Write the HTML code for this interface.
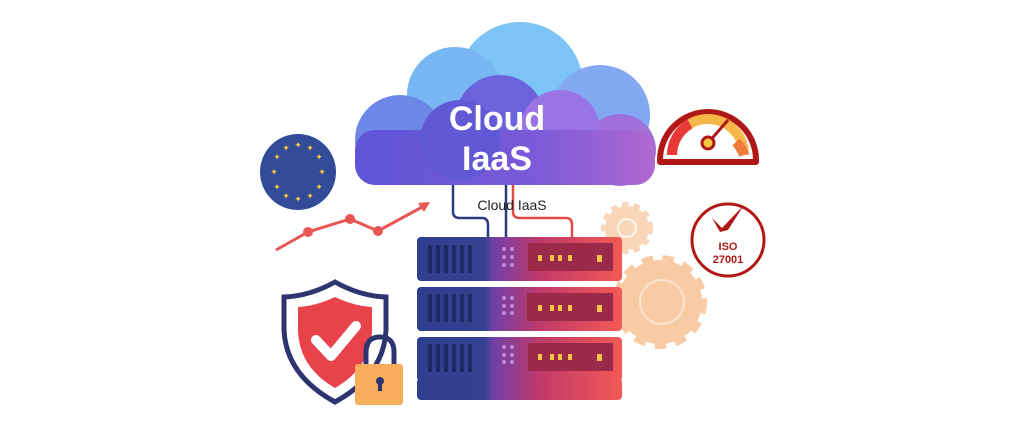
<!DOCTYPE html>
<html><head><style>html,body{margin:0;padding:0;background:#fff;width:1024px;height:429px;overflow:hidden}</style></head>
<body>
<svg width="1024" height="429" viewBox="0 0 1024 429" xmlns="http://www.w3.org/2000/svg">
<defs>
<linearGradient id="cl2" x1="0" y1="0" x2="1" y2="0"><stop offset="0" stop-color="#5d55d6"/><stop offset="0.6" stop-color="#7a5ad8"/><stop offset="1" stop-color="#b068d0"/></linearGradient>
<linearGradient id="sv" x1="0" y1="0" x2="1" y2="0"><stop offset="0" stop-color="#2f3f8f"/><stop offset="0.33" stop-color="#33428f"/><stop offset="0.37" stop-color="#7040a8"/><stop offset="0.6" stop-color="#c03a6a"/><stop offset="1" stop-color="#f25a55"/></linearGradient>
</defs>
<path d="M453 180 V212 Q453 218 460 218 H482 Q488 218 488 225 V240" fill="none" stroke="#2c3a80" stroke-width="2.5"/>
<path d="M506 180 V240" fill="none" stroke="#2c3a80" stroke-width="2.5"/>
<path d="M513 180 V212 Q513 218 520 218 H566 Q572 218 572 225 V240" fill="none" stroke="#e04a4a" stroke-width="2.5"/>
<g>
<circle cx="520" cy="85" r="63" fill="#7cc4f5"/>
<circle cx="455" cy="95" r="48" fill="#78b6f4"/>
<circle cx="600" cy="115" r="50" fill="#82a8f2"/>
<circle cx="400" cy="140" r="45" fill="#6e88e8"/>
<circle cx="620" cy="150" r="36" fill="#a070d8"/>
<circle cx="500" cy="120" r="45" fill="#6b63dc"/>
<circle cx="560" cy="130" r="40" fill="#9a74e4"/>
<rect x="355" y="130" width="300" height="55" rx="20" fill="url(#cl2)"/>
<circle cx="460" cy="140" r="40" fill="#6058d4"/>
</g>
<text x="497" y="130" text-anchor="middle" font-family="Liberation Sans, sans-serif" font-weight="bold" font-size="34" fill="#fff">Cloud</text>
<text x="497" y="170" text-anchor="middle" font-family="Liberation Sans, sans-serif" font-weight="bold" font-size="34" fill="#fff">IaaS</text>
<text x="512" y="210" text-anchor="middle" font-family="Liberation Sans, sans-serif" font-size="14" fill="#222">Cloud IaaS</text>
<circle cx="298" cy="172" r="38" fill="#334c9a"/>
<g fill="#f5c842" font-size="9" text-anchor="middle" font-family="DejaVu Sans">
<text x="298" y="148">✦</text><text x="310" y="151">✦</text><text x="319" y="160">✦</text><text x="322" y="175">✦</text><text x="319" y="190">✦</text><text x="310" y="199">✦</text><text x="298" y="202">✦</text><text x="286" y="199">✦</text><text x="277" y="190">✦</text><text x="274" y="175">✦</text><text x="277" y="160">✦</text><text x="286" y="151">✦</text>
</g>
<polyline points="276,250 308,232 350,219 378,231 424,206" fill="none" stroke="#e85555" stroke-width="3"/>
<polygon points="430,202 418,203 424,212" fill="#e85555"/>
<circle cx="308" cy="232" r="5" fill="#e85555"/><circle cx="350" cy="219" r="5" fill="#e85555"/><circle cx="378" cy="231" r="5" fill="#e85555"/>
<path d="M660 160 A48 48 0 0 1 756 160 V162 H660 Z" fill="#fff" stroke="#b01818" stroke-width="6" stroke-linejoin="round"/>
<path d="M672 155 A36 36 0 0 1 744 155" fill="none" stroke="#f7b748" stroke-width="10"/>
<path d="M672 155 A36 36 0 0 1 690 124" fill="none" stroke="#e83838" stroke-width="10"/>
<path d="M736 142 A36 36 0 0 1 744 155" fill="none" stroke="#f07a3a" stroke-width="10"/>
<line x1="708" y1="143" x2="728" y2="120" stroke="#b01818" stroke-width="3"/>
<circle cx="708" cy="143" r="6" fill="#f5c842" stroke="#b01818" stroke-width="3"/>
<circle cx="728" cy="240" r="36" fill="#fff" stroke="#b01818" stroke-width="3"/>
<path d="M712 218 L722 228 L744 205 L728 230 L720 232 Z" fill="#b01818"/>
<text x="728" y="250" text-anchor="middle" font-family="Liberation Sans, sans-serif" font-weight="bold" font-size="11" fill="#b01818">ISO</text>
<text x="728" y="263" text-anchor="middle" font-family="Liberation Sans, sans-serif" font-weight="bold" font-size="11" fill="#b01818">27001</text>
<circle cx="627" cy="228" r="22" fill="#fad6b8" stroke="#fad6b8" stroke-width="8" stroke-dasharray="6 5"/>
<circle cx="627" cy="228" r="9" fill="none" stroke="#fff" stroke-width="2" opacity="0.7"/>
<circle cx="660" cy="302" r="42" fill="#f9cba4" stroke="#f9cba4" stroke-width="10" stroke-dasharray="11 9"/>
<circle cx="662" cy="302" r="22" fill="none" stroke="#fde4d0" stroke-width="2"/>
<rect x="417" y="378" width="205" height="22" rx="4" fill="url(#sv)"/>
<rect x="417" y="237" width="205" height="44" rx="4" fill="url(#sv)"/>
<rect x="417" y="287" width="205" height="44" rx="4" fill="url(#sv)"/>
<rect x="417" y="337" width="205" height="44" rx="4" fill="url(#sv)"/>
<g fill="#1e2a66">
<rect x="428" y="245" width="4" height="28"/><rect x="436" y="245" width="4" height="28"/><rect x="444" y="245" width="4" height="28"/><rect x="452" y="245" width="4" height="28"/><rect x="460" y="245" width="4" height="28"/><rect x="468" y="245" width="4" height="28"/>
<rect x="428" y="294" width="4" height="28"/><rect x="436" y="294" width="4" height="28"/><rect x="444" y="294" width="4" height="28"/><rect x="452" y="294" width="4" height="28"/><rect x="460" y="294" width="4" height="28"/><rect x="468" y="294" width="4" height="28"/>
<rect x="428" y="344" width="4" height="28"/><rect x="436" y="344" width="4" height="28"/><rect x="444" y="344" width="4" height="28"/><rect x="452" y="344" width="4" height="28"/><rect x="460" y="344" width="4" height="28"/><rect x="468" y="344" width="4" height="28"/>
</g>
<g fill="#9b2a4a"><rect x="528" y="243" width="85" height="28"/><rect x="527" y="293" width="86" height="28"/><rect x="528" y="343" width="85" height="28"/></g>
<g fill="#f5c24a">
<rect x="538" y="255" width="4" height="6"/><rect x="550" y="255" width="4" height="6"/><rect x="558" y="255" width="4" height="6"/><rect x="568" y="255" width="4" height="6"/><rect x="597" y="255" width="5" height="7"/>
<rect x="538" y="305" width="4" height="6"/><rect x="550" y="305" width="4" height="6"/><rect x="558" y="305" width="4" height="6"/><rect x="568" y="305" width="4" height="6"/><rect x="597" y="305" width="5" height="7"/>
<rect x="538" y="354" width="4" height="6"/><rect x="550" y="354" width="4" height="6"/><rect x="558" y="354" width="4" height="6"/><rect x="568" y="354" width="4" height="6"/><rect x="597" y="354" width="5" height="7"/>
</g>
<g fill="#c08ad8">
<circle cx="504" cy="249" r="2"/><circle cx="512" cy="249" r="2"/><circle cx="504" cy="257" r="2"/><circle cx="512" cy="257" r="2"/><circle cx="504" cy="265" r="2"/><circle cx="512" cy="265" r="2"/>
<circle cx="504" cy="298" r="2"/><circle cx="512" cy="298" r="2"/><circle cx="504" cy="306" r="2"/><circle cx="512" cy="306" r="2"/><circle cx="504" cy="313" r="2"/><circle cx="512" cy="313" r="2"/>
<circle cx="504" cy="347" r="2"/><circle cx="512" cy="347" r="2"/><circle cx="504" cy="355" r="2"/><circle cx="512" cy="355" r="2"/><circle cx="504" cy="362" r="2"/><circle cx="512" cy="362" r="2"/>
</g>
<path d="M335 282 Q310 296 284 297 V330 Q286 375 335 402 Q384 375 386 330 V297 Q360 296 335 282 Z" fill="#fff" stroke="#2d3470" stroke-width="5"/>
<path d="M335 297 Q316 306 298 307 V332 Q300 368 335 388 Q370 368 372 332 V307 Q354 306 335 297 Z" fill="#e8434a"/>
<path d="M316 340 L331 356 L356 326" fill="none" stroke="#fff" stroke-width="10" stroke-linecap="round" stroke-linejoin="round"/>
<path d="M366 366 V352 Q366 337 380 337 Q394 337 394 352 V366" fill="none" stroke="#2d3470" stroke-width="5"/>
<rect x="355" y="364" width="48" height="41" rx="3" fill="#f7ad5c"/>
<circle cx="380" cy="381" r="4" fill="#2d3470"/><rect x="378" y="382" width="4" height="9" fill="#2d3470"/>
</svg>
</body></html>
